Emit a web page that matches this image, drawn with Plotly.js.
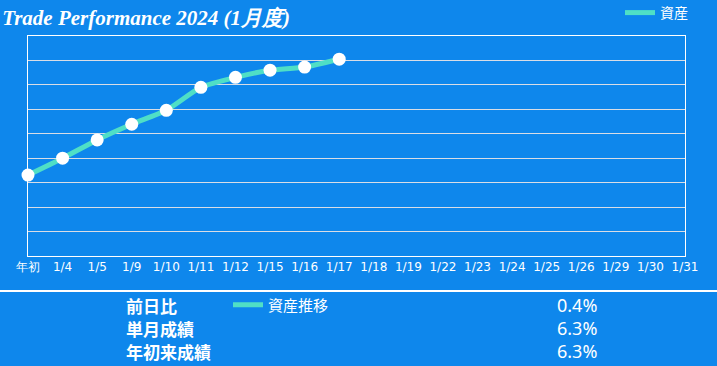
<!DOCTYPE html>
<html>
<head>
<meta charset="utf-8">
<script src="https://cdn.plot.ly/plotly-3.0.1.min.js"></script>
<style>
html,body{margin:0;padding:0;background:#0e87ec;}
#chart{width:717px;height:366px;}
</style>
</head>
<body>
<div id="chart"></div>
<script>
const categories = ['年初','1/4','1/5','1/9','1/10','1/11','1/12','1/15','1/16','1/17','1/18','1/19','1/22','1/23','1/24','1/25','1/26','1/29','1/30','1/31'];
const assetValues = [3.31, 4.0, 4.75, 5.39, 5.96, 6.90, 7.31, 7.6, 7.73, 8.05];
const summaryLabels = ['前日比','単月成績','年初来成績'];
const summaryValues = ['0.4%','6.3%','6.3%'];

const bg = '#0e87ec';
const lineColor = '#4fdfc6';

const W = 717, H = 366;
const M = {l: 28, r: 32, t: 36, b: 110, autoexpand: false};
const pw = W - M.l - M.r, ph = H - M.t - M.b;
const px = x => (x - M.l) / pw;
const py = y => (H - M.b - y) / ph;

const assetX = categories.slice(0, assetValues.length);

const traces = [
  {
    type: 'scatter', mode: 'lines', name: '資産',
    x: assetX, y: assetValues,
    line: {color: lineColor, width: 5, shape: 'spline', smoothing: 0.6},
    cliponaxis: false, legend: 'legend'
  },
  {
    type: 'scatter', mode: 'markers', name: '資産',
    x: assetX, y: assetValues,
    marker: {color: '#ffffff', size: 13},
    cliponaxis: false, showlegend: false
  },
  {
    type: 'scatter', mode: 'lines', name: '資産推移',
    x: [null], y: [null],
    line: {color: lineColor, width: 5},
    legend: 'legend2', hoverinfo: 'skip'
  }
];

const annotations = [];
summaryLabels.forEach((t, i) => {
  annotations.push({
    xref: 'paper', yref: 'paper', x: px(124), y: py(305 + i * 23),
    xanchor: 'left', yanchor: 'middle', showarrow: false,
    text: '<b>' + t + '</b>',
    font: {family: 'Noto Sans CJK JP', size: 17, color: '#ffffff'}
  });
  annotations.push({
    xref: 'paper', yref: 'paper', x: px(599), y: py(305 + i * 23),
    xanchor: 'right', yanchor: 'middle', showarrow: false,
    text: summaryValues[i],
    font: {family: 'Noto Sans', size: 18, color: '#ffffff'}
  });
});

const layout = {
  width: W, height: H,
  paper_bgcolor: bg, plot_bgcolor: bg,
  margin: M,
  title: {
    text: '<b><i>Trade Performance 2024 (1月度)</i></b>',
    xref: 'container', yref: 'container', x: 0.003, xanchor: 'left',
    y: 1 - 18 / H, yanchor: 'middle',
    font: {family: 'Liberation Serif', size: 21, color: '#ffffff'}
  },
  xaxis: {
    type: 'category', categoryorder: 'array', categoryarray: categories,
    range: [0, categories.length - 1],
    showgrid: false, zeroline: false,
    showline: true, linecolor: '#ffffff', linewidth: 1, mirror: true,
    ticks: '', tickfont: {family: 'DejaVu Sans', size: 12, color: '#ffffff'},
    fixedrange: true
  },
  yaxis: {
    range: [0, 9], dtick: 1, tick0: 0,
    showgrid: true, gridcolor: '#d8dde6', gridwidth: 1,
    zeroline: false, showticklabels: false, ticks: '',
    showline: true, linecolor: '#ffffff', linewidth: 1, mirror: true,
    fixedrange: true
  },
  showlegend: true,
  legend: {
    x: px(693), xanchor: 'right', y: py(13), yanchor: 'middle',
    bgcolor: 'rgba(0,0,0,0)', borderwidth: 0,
    font: {family: 'Noto Sans CJK JP', size: 14, color: '#ffffff'},
    itemwidth: 30
  },
  legend2: {
    x: px(228), xanchor: 'left', y: py(305), yanchor: 'middle',
    bgcolor: 'rgba(0,0,0,0)', borderwidth: 0,
    font: {family: 'Noto Sans CJK JP', size: 15, color: '#ffffff'},
    itemwidth: 30
  },
  shapes: [
    {type: 'line', xref: 'paper', yref: 'paper', x0: px(0), x1: px(W), y0: py(291), y1: py(291),
     line: {color: '#ffffff', width: 2}}
  ],
  annotations: annotations
};

Plotly.newPlot('chart', traces, layout, {displayModeBar: false, staticPlot: true});
</script>
</body>
</html>
